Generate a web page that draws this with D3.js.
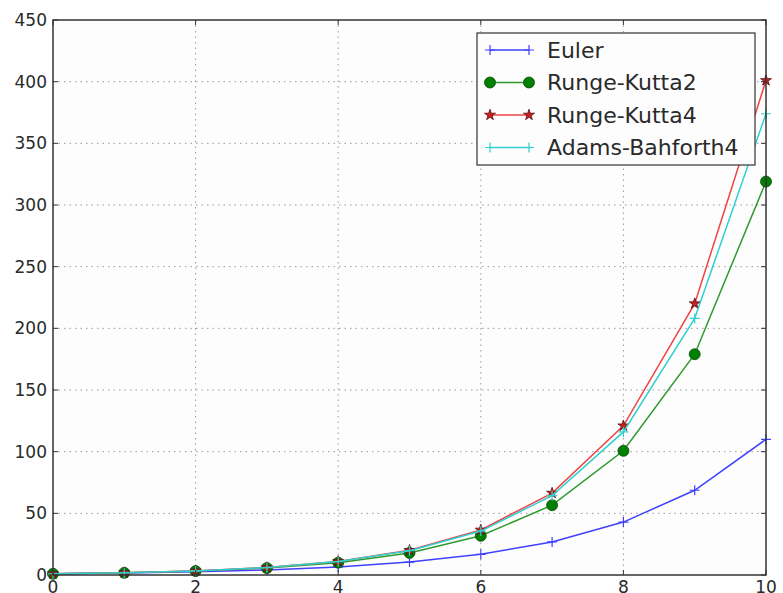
<!DOCTYPE html>
<meta charset="utf-8">
<style>
body { margin: 0; background: #fff; }
text { font-family: "DejaVu Sans", sans-serif; fill: #2a2a2a; }
</style>
<body>
<script src="https://cdn.jsdelivr.net/npm/d3@7"></script>
<script>
var steps = [0, 1, 2, 3, 4, 5, 6, 7, 8, 9, 10];
var euler = [1, 1.6, 2.56, 4.1, 6.55, 10.5, 16.8, 26.8, 42.9, 68.7, 110];
var rk2 = [1, 1.78, 3.17, 5.64, 10.0, 17.9, 31.8, 56.6, 100.7, 179, 319];
var rk4 = [1, 1.82, 3.32, 6.04, 11.0, 20.0, 36.5, 66.4, 121, 220, 401];
var adams = [1, 1.82, 3.32, 6.04, 10.9, 19.7, 35.6, 64.4, 116, 208, 374];
var seriesNames = ["Euler", "Runge-Kutta2", "Runge-Kutta4", "Adams-Bahforth4"];
var xTicks = [0, 2, 4, 6, 8, 10];
var yTicks = [0, 50, 100, 150, 200, 250, 300, 350, 400, 450];

var W = 783, H = 593,
    pL = 53, pR = 766, pT = 20, pB = 575;

var x = d3.scaleLinear().domain([0, 10]).range([pL, pR]);
var y = d3.scaleLinear().domain([0, 450]).range([pB, pT]);

var svg = d3.select("body").append("svg")
    .attr("width", W)
    .attr("height", H);

svg.append("rect")
    .attr("x", pL).attr("y", pT)
    .attr("width", pR - pL).attr("height", pB - pT)
    .attr("fill", "#fdfdfd");

// grid
var grid = svg.append("g")
    .attr("stroke", "#999")
    .attr("stroke-width", 1)
    .attr("stroke-dasharray", "1.5,4");
grid.selectAll("line.gx").data(xTicks.slice(1, -1)).enter().append("line")
    .attr("x1", x).attr("x2", x).attr("y1", pT).attr("y2", pB);
grid.selectAll("line.gy").data(yTicks.slice(1, -1)).enter().append("line")
    .attr("y1", y).attr("y2", y).attr("x1", pL).attr("x2", pR);

// series
var series = [
    {name: seriesNames[0], vals: euler, color: "#4040ff", marker: "plus"},
    {name: seriesNames[1], vals: rk2, color: "#2e9a2e", marker: "circle", fill: "#008000"},
    {name: seriesNames[2], vals: rk4, color: "#f04444", marker: "star", fill: "#c82020"},
    {name: seriesNames[3], vals: adams, color: "#30d0d0", marker: "plus"}
];

var line = d3.line()
    .x(function(d, i) { return x(steps[i]); })
    .y(function(d) { return y(d); });

var starSym = d3.symbol().type(d3.symbolStar).size(38);

function drawMarker(g, s, px, py) {
    if (s.marker == "plus") {
        g.append("path")
            .attr("d", "M" + (px - 5) + "," + py + "h10M" + px + "," + (py - 5) + "v10")
            .attr("stroke", s.color).attr("stroke-width", 1.2);
    } else if (s.marker == "circle") {
        g.append("circle")
            .attr("cx", px).attr("cy", py).attr("r", 5.5)
            .attr("fill", s.fill).attr("stroke", "#0a4a0a").attr("stroke-width", 0.8);
    } else {
        g.append("path")
            .attr("d", starSym())
            .attr("transform", "translate(" + px + "," + py + ")")
            .attr("fill", s.fill).attr("stroke", "#5a1010").attr("stroke-width", 0.8);
    }
}

var plot = svg.append("g");
series.forEach(function(s) {
    var g = plot.append("g");
    g.append("path")
        .attr("d", line(s.vals))
        .attr("fill", "none")
        .attr("stroke", s.color)
        .attr("stroke-width", 1.5);
    s.vals.forEach(function(v, i) {
        drawMarker(g, s, x(steps[i]), y(v));
    });
});

// frame
svg.append("rect")
    .attr("x", pL).attr("y", pT)
    .attr("width", pR - pL).attr("height", pB - pT)
    .attr("fill", "none").attr("stroke", "#333").attr("stroke-width", 1.5);

// ticks inward on all sides
var ticks = svg.append("g").attr("stroke", "#333").attr("stroke-width", 1);
xTicks.forEach(function(t) {
    ticks.append("line").attr("x1", x(t)).attr("x2", x(t)).attr("y1", pB).attr("y2", pB - 5);
    ticks.append("line").attr("x1", x(t)).attr("x2", x(t)).attr("y1", pT).attr("y2", pT + 5);
});
yTicks.forEach(function(t) {
    ticks.append("line").attr("y1", y(t)).attr("y2", y(t)).attr("x1", pL).attr("x2", pL + 5);
    ticks.append("line").attr("y1", y(t)).attr("y2", y(t)).attr("x1", pR).attr("x2", pR - 5);
});

svg.append("g").selectAll("text").data(xTicks).enter().append("text")
    .attr("x", x).attr("y", pB + 18)
    .attr("text-anchor", "middle")
    .attr("font-size", 17)
    .text(function(d) { return d; });

svg.append("g").selectAll("text").data(yTicks).enter().append("text")
    .attr("x", pL - 6).attr("y", y)
    .attr("dy", "0.35em")
    .attr("text-anchor", "end")
    .attr("font-size", 17)
    .text(function(d) { return d; });

// legend
var lg = svg.append("g");
lg.append("rect")
    .attr("x", 477).attr("y", 33).attr("width", 278).attr("height", 132)
    .attr("fill", "#fdfdfd").attr("stroke", "#333").attr("stroke-width", 1.2);
series.forEach(function(s, i) {
    var ly = 50 + i * 32.5;
    lg.append("line")
        .attr("x1", 490).attr("x2", 529).attr("y1", ly).attr("y2", ly)
        .attr("stroke", s.color).attr("stroke-width", 1.5);
    drawMarker(lg, s, 490, ly);
    drawMarker(lg, s, 529, ly);
    lg.append("text")
        .attr("x", 547).attr("y", ly)
        .attr("dy", "0.35em")
        .attr("font-size", 22)
        .text(s.name);
});
</script>
</body>
